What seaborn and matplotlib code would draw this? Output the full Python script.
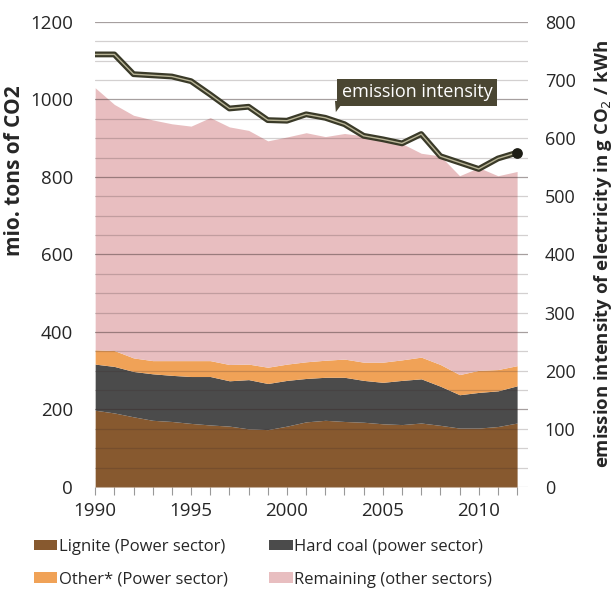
import numpy as np
import pandas as pd
import matplotlib.pyplot as plt
import seaborn as sns
from matplotlib.patches import Polygon, Patch

YEARS = list(range(1990, 2013))

# cumulative tops (mio. t CO2)
LIGNITE_TOP = [198, 191, 181, 172, 169, 164, 160, 157, 150, 148, 157, 168,
               172, 169, 167, 163, 161, 165, 159, 152, 152, 156, 165]
HARDCOAL_TOP = [317, 311, 298, 292, 288, 285, 285, 274, 277, 267, 275, 280,
                283, 283, 275, 270, 275, 279, 260, 238, 244, 248, 261]
OTHER_TOP = [354, 352, 333, 326, 326, 326, 326, 316, 317, 309, 317, 323,
             327, 330, 322, 322, 328, 335, 316, 290, 301, 303, 313]
TOTAL = [1030, 987, 959, 947, 937, 931, 953, 929, 920, 893, 903, 914,
         904, 912, 906, 897, 886, 861, 854, 803, 824, 803, 814]

# emission intensity, g CO2 / kWh (right axis)
INTENSITY = [744, 744, 710, 708, 706, 698, 675, 651, 654, 631, 630, 641,
             635, 624, 604, 598, 591, 607, 569, 558, 547, 565, 575]

LABELS = ["Lignite (Power sector)", "Hard coal (power sector)",
          "Other* (Power sector)", "Remaining (other sectors)"]
COLORS = ["#87592f", "#4b4b4b", "#f0a257", "#e8bec0"]

sns.set_theme(style="white")
plt.rcParams["font.family"] = ["Open Sans", "DejaVu Sans"]

df = pd.DataFrame({"year": YEARS, "lig": LIGNITE_TOP, "hc": HARDCOAL_TOP,
                   "oth": OTHER_TOP, "tot": TOTAL, "ei": INTENSITY})
layers = [df["lig"], df["hc"] - df["lig"], df["oth"] - df["hc"], df["tot"] - df["oth"]]

fig = plt.figure(figsize=(6.14, 5.91), dpi=100)
ax = fig.add_axes([0.155, 0.176, 0.705, 0.787])
ax.stackplot(df["year"], *layers, colors=COLORS, linewidth=0, zorder=1)

ax.set_xlim(1990, 2012.57)
ax.set_ylim(0, 1200)

# horizontal rules over the areas
for v in range(50, 1201, 50):
    major = v % 200 == 0
    ax.axhline(v, color="#3a2a2a", alpha=0.45 if major else 0.22,
               lw=0.9, zorder=2)

ax.axhline(0, color="#999999", lw=0.8, zorder=3)
for s in ax.spines.values():
    s.set_visible(False)

ax.set_yticks(range(0, 1201, 200))
ax.set_xticks(range(1990, 2011, 5))
ax.set_xticks(YEARS, minor=True)
ax.tick_params(axis="x", which="both", direction="out", length=6, width=0.8,
               color="#999999", labelsize=13.5, pad=5, bottom=True)
ax.tick_params(axis="y", length=0, labelsize=13.5, pad=16)
ax.set_ylabel("mio. tons of CO2", fontsize=15, fontweight="bold")
ax.yaxis.set_label_coords(-0.163, 0.68)

# emission intensity line on twin axis
ax2 = ax.twinx()
ax2.set_ylim(0, 800)
for s in ax2.spines.values():
    s.set_visible(False)
ax2.set_yticks(range(0, 801, 100))
ax2.tick_params(axis="y", length=0, labelsize=13, pad=12)
ax2.grid(False)
sns.lineplot(data=df, x="year", y="ei", ax=ax2, color="#3a3a28", lw=4.2, zorder=5)
sns.lineplot(data=df, x="year", y="ei", ax=ax2, color="#b8b496", lw=1.0, zorder=6)
ax2.scatter(df["year"].iloc[-1], df["ei"].iloc[-1], s=45, color="#1c1c14",
            zorder=7, clip_on=False)
ax2.set_ylabel("emission intensity of electricity in g CO$_2$ / kWh",
               fontsize=13.3, fontweight="bold")
ax2.yaxis.set_label_coords(1.147, 0.5)
ax2.set_xlabel("")

# callout label
ax.text(0.744, 0.849, "emission intensity", transform=ax.transAxes,
        ha="center", va="center", color="white", fontsize=13, zorder=8,
        bbox=dict(boxstyle="square,pad=0.25", fc="#4a4632", ec="none"))
ax.add_patch(Polygon([(0.554, 0.830), (0.575, 0.830), (0.556, 0.806)],
                     closed=True, transform=ax.transAxes, fc="#4a4632",
                     ec="none", zorder=8, clip_on=False))

handles = [Patch(facecolor=c, edgecolor="none") for c in COLORS]
order = [0, 2, 1, 3]
fig.legend([handles[i] for i in order], [LABELS[i] for i in order],
           loc="upper left", bbox_to_anchor=(0.055, 0.088), ncol=2,
           frameon=False, fontsize=12, handlelength=1.4, handleheight=0.6,
           handletextpad=0.1, columnspacing=2.5, labelspacing=1.0,
           borderaxespad=0, borderpad=0)

fig.savefig("out.png", dpi=100)
